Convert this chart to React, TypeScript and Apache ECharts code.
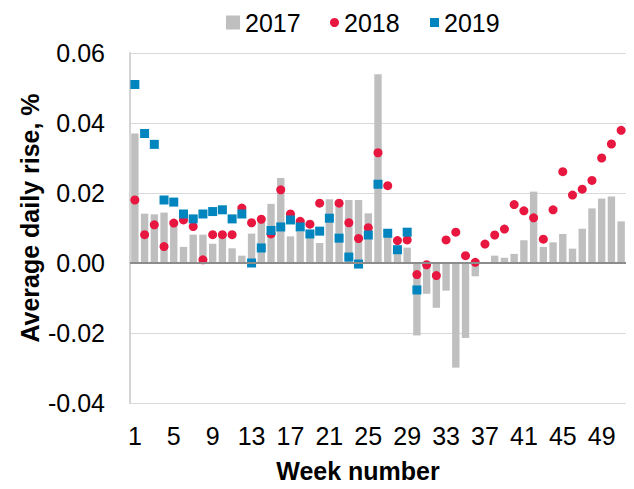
import React, { useEffect, useRef } from "react";
import * as echarts from "echarts";

const weeks: string[] = Array.from({ length: 51 }, (_, i) => String(i + 1));

const y2017: number[] = [
  0.037, 0.0141, 0.0139, 0.0144, 0.012, 0.0046, 0.0081, 0.0081, 0.0055, 0.0081,
  0.0042, 0.0021, 0.0084, 0.0119, 0.0169, 0.0243, 0.0076, 0.009, 0.0072, 0.0057,
  0.0182, 0.018, 0.018, 0.018, 0.0142, 0.0539, 0.0075, 0.0038, 0.0044, -0.0207,
  -0.0088, -0.0128, -0.0079, -0.0299, -0.0214, -0.0038, 0.0, 0.0021, 0.0015, 0.0026,
  0.0065, 0.0204, 0.0046, 0.0059, 0.0083, 0.0041, 0.0098, 0.0156, 0.0184, 0.019,
  0.0119,
];

const y2018: (number | null)[] = [
  0.018, 0.0081, 0.0109, 0.0047, 0.0114, 0.0123, 0.0104, 0.0009, 0.0081, 0.0081,
  0.0081, 0.0157, 0.0115, 0.0125, 0.0083, 0.0209, 0.014, 0.0119, 0.0111, 0.0171,
  null, 0.0171, 0.0115, 0.007, 0.0101, 0.0315, 0.0221, 0.0064, 0.0066, -0.0033,
  -0.0005, -0.0036, 0.0066, 0.0088, 0.0021, 0.0002, 0.0054, 0.008, 0.0097, 0.0167,
  0.0149, 0.0129, 0.0068, 0.0152, 0.0261, 0.0194, 0.0211, 0.0236, 0.03, 0.034,
  0.0379,
];

const y2019: (number | null)[] = [
  0.051, 0.037, 0.0339, 0.018, 0.0174, 0.014, 0.0126, 0.014, 0.0147, 0.0152,
  0.0126, 0.014, 0.0, 0.0043, 0.0093, 0.0103, 0.0123, 0.0103, 0.0083, 0.0091,
  0.0128, 0.0071, 0.0017, -0.0003, 0.008, 0.0225, 0.0085, 0.0038, 0.0088, -0.0077,
];

const FONT = "'Liberation Sans', Arial, sans-serif";
const GRAY = "#bfbfbf";
const RED = "#e8173f";
const BLUE = "#0085bf";

export default function App() {
  const ref = useRef<HTMLDivElement>(null);
  useEffect(() => {
    if (!ref.current) return;
    const chart = echarts.init(ref.current, undefined, { renderer: "svg" });
    const legendText = { fontFamily: FONT, fontSize: 25, color: "#000" };
    chart.setOption({
      animation: false,
      backgroundColor: "#fff",
      textStyle: { fontFamily: FONT },
      grid: { left: 130, right: 8, top: 53, bottom: 86, containLabel: false, outerBoundsMode: "none" },
      legend: [
        { data: ["2017"], left: 221, top: 5, itemWidth: 14, itemHeight: 14, itemGap: 0, icon: "rect", textStyle: legendText },
        { data: ["2018"], left: 325, top: 5, itemWidth: 9, itemHeight: 9, itemGap: 0, icon: "circle", textStyle: legendText },
        { data: ["2019"], left: 425, top: 5, itemWidth: 9, itemHeight: 9, itemGap: 0, icon: "rect", textStyle: legendText },
      ],
      xAxis: {
        type: "category",
        data: weeks,
        axisLine: { show: false, onZero: false },
        axisTick: { show: false },
        axisLabel: { interval: 3, fontSize: 25, color: "#000", fontFamily: FONT, margin: 20 },
      },
      yAxis: {
        type: "value",
        min: -0.04,
        max: 0.06,
        interval: 0.02,
        axisLine: { show: true, lineStyle: { color: "#d4d4d4", width: 2 } },
        axisTick: { show: false },
        splitLine: { show: true, lineStyle: { color: "#d9d9d9", width: 1 } },
        axisLabel: {
          fontSize: 25,
          color: "#000",
          fontFamily: FONT,
          margin: 25,
          formatter: (v: number) => v.toFixed(2),
        },
      },
      series: [
        {
          name: "2017",
          type: "bar",
          data: y2017,
          barCategoryGap: "24%",
          itemStyle: { color: GRAY },
          markLine: {
            silent: true,
            symbol: "none",
            label: { show: false },
            lineStyle: { color: "#8c8c8c", width: 2, type: "solid" },
            data: [{ yAxis: 0 }],
          },
        },
        {
          name: "2018",
          type: "scatter",
          data: y2018,
          symbol: "circle",
          symbolSize: 9,
          itemStyle: { color: RED, opacity: 1 },
        },
        {
          name: "2019",
          type: "scatter",
          data: y2019,
          symbol: "rect",
          symbolSize: 9,
          itemStyle: { color: BLUE, opacity: 1 },
        },
      ],
      graphic: [
        {
          type: "text",
          x: 358,
          y: 471,
          style: {
            text: "Week number",
            font: `bold 25px ${FONT}`,
            fill: "#000",
            align: "center",
            verticalAlign: "middle",
          },
        },
        {
          type: "text",
          x: 30,
          y: 218,
          rotation: Math.PI / 2,
          style: {
            text: "Average daily rise, %",
            font: `bold 25px ${FONT}`,
            fill: "#000",
            align: "center",
            verticalAlign: "middle",
          },
        },
      ],
    });
    return () => chart.dispose();
  }, []);
  return (
    <div
      ref={ref}
      style={{ position: "fixed", left: 0, top: 0, width: 634, height: 489, background: "#fff" }}
    />
  );
}
